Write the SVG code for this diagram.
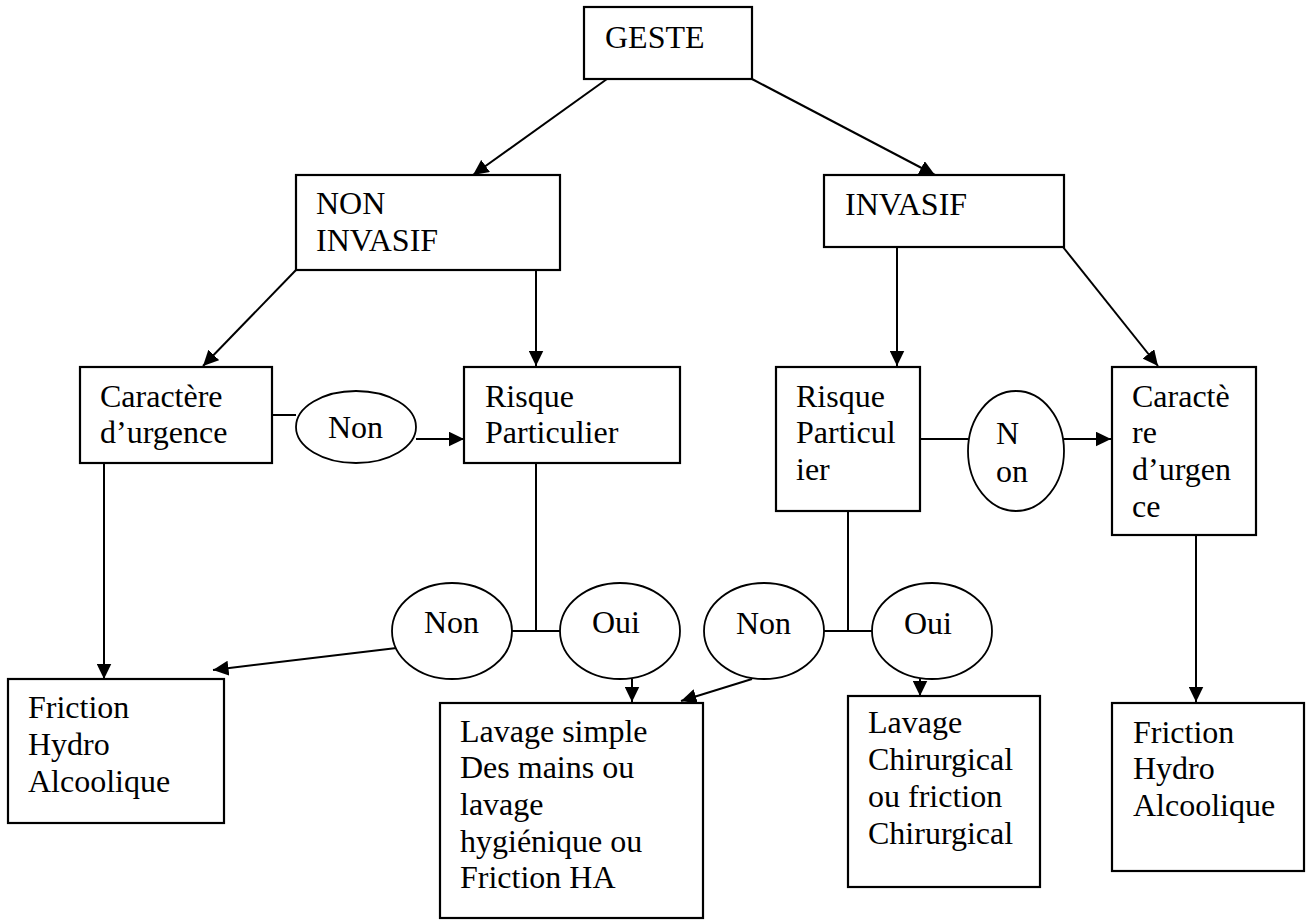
<svg xmlns="http://www.w3.org/2000/svg" width="1306" height="920" viewBox="0 0 1306 920">
<style>
.box{fill:#fff;stroke:#000;stroke-width:2.2}
.ell{fill:#fff;stroke:#000;stroke-width:1.8}
.ln{fill:none;stroke:#000;stroke-width:2}
.arr{fill:none;stroke:#000;stroke-width:2;marker-end:url(#ah)}
text{font-family:"Liberation Serif","Times New Roman",serif;font-size:32px;fill:#000}
</style>
<defs>
<marker id="ah" markerUnits="userSpaceOnUse" markerWidth="16" markerHeight="15" refX="15.5" refY="7.5" orient="auto" viewBox="0 0 16 15">
<path d="M0,0 L15.5,7.5 L0,15 z" fill="#000"/>
</marker>
</defs>
<rect width="1306" height="920" fill="#fff"/>
<g id="connectors">
<line class="arr" x1="607" y1="79" x2="473" y2="175"/>
<line class="arr" x1="752" y1="79" x2="935" y2="175"/>
<line class="arr" x1="296" y1="270" x2="203" y2="366"/>
<line class="arr" x1="536" y1="270" x2="536" y2="366"/>
<line class="arr" x1="897" y1="247" x2="897" y2="366"/>
<line class="arr" x1="1063" y1="247" x2="1158" y2="366"/>
<line class="ln" x1="272" y1="415" x2="296" y2="415"/>
<line class="arr" x1="416" y1="439" x2="464" y2="439"/>
<line class="ln" x1="920" y1="439" x2="968" y2="439"/>
<line class="arr" x1="1064" y1="439" x2="1111" y2="439"/>
<line class="arr" x1="104" y1="463" x2="104" y2="679"/>
<line class="ln" x1="536" y1="463" x2="536" y2="631"/>
<line class="ln" x1="512" y1="631" x2="560" y2="631"/>
<line class="ln" x1="848" y1="511" x2="848" y2="631"/>
<line class="ln" x1="824" y1="631" x2="872" y2="631"/>
<line class="arr" x1="405" y1="647" x2="213" y2="670"/>
<line class="arr" x1="632" y1="679" x2="632" y2="702"/>
<line class="arr" x1="752" y1="679" x2="681" y2="701"/>
<line class="arr" x1="920" y1="679" x2="920" y2="696"/>
<line class="arr" x1="1196" y1="535" x2="1196" y2="702"/>
</g>
<g id="geste"><rect class="box" x="584" y="7" width="168" height="72"/><text x="605" y="48">GESTE</text></g>
<g id="non-invasif"><rect class="box" x="296" y="175" width="264" height="95"/><text x="316" y="214">NON</text><text x="316" y="251">INVASIF</text></g>
<g id="invasif"><rect class="box" x="824" y="175" width="240" height="72"/><text x="845" y="215">INVASIF</text></g>
<g id="caractere-l"><rect class="box" x="80" y="367" width="192" height="96"/><text x="100" y="407">Caractère</text><text x="100" y="443">d’urgence</text></g>
<g id="non-top-l"><ellipse class="ell" cx="356" cy="427" rx="60" ry="36"/><text x="328" y="438">Non</text></g>
<g id="risque-l"><rect class="box" x="464" y="367" width="216" height="96"/><text x="485" y="407">Risque</text><text x="485" y="443">Particulier</text></g>
<g id="risque-r"><rect class="box" x="776" y="367" width="144" height="144"/><text x="796" y="407">Risque</text><text x="796" y="443">Particul</text><text x="796" y="480">ier</text></g>
<g id="non-top-r"><ellipse class="ell" cx="1016" cy="451" rx="48" ry="60"/><text x="996" y="444">N</text><text x="996" y="482">on</text></g>
<g id="caractere-r"><rect class="box" x="1112" y="367" width="144" height="168"/><text x="1132" y="407">Caractè</text><text x="1132" y="443">re</text><text x="1132" y="480">d’urgen</text><text x="1132" y="517">ce</text></g>
<g id="non-bot-l"><ellipse class="ell" cx="452" cy="631" rx="60" ry="48"/><text x="424" y="633">Non</text></g>
<g id="oui-bot-l"><ellipse class="ell" cx="620" cy="631" rx="60" ry="48"/><text x="592" y="633">Oui</text></g>
<g id="non-bot-r"><ellipse class="ell" cx="764" cy="631" rx="60" ry="48"/><text x="736" y="634">Non</text></g>
<g id="oui-bot-r"><ellipse class="ell" cx="932" cy="631" rx="60" ry="48"/><text x="904" y="634">Oui</text></g>
<g id="friction-l"><rect class="box" x="8" y="679" width="216" height="144"/><text x="28" y="718">Friction</text><text x="28" y="755">Hydro</text><text x="28" y="792">Alcoolique</text></g>
<g id="lavage-simple"><rect class="box" x="440" y="703" width="263" height="215"/><text x="460" y="742">Lavage simple</text><text x="460" y="778">Des mains ou</text><text x="460" y="815">lavage</text><text x="460" y="852">hygiénique ou</text><text x="460" y="888">Friction HA</text></g>
<g id="lavage-chir"><rect class="box" x="848" y="696" width="192" height="191"/><text x="868" y="733">Lavage</text><text x="868" y="770">Chirurgical</text><text x="868" y="807">ou friction</text><text x="868" y="844">Chirurgical</text></g>
<g id="friction-r"><rect class="box" x="1112" y="703" width="192" height="168"/><text x="1133" y="743">Friction</text><text x="1133" y="779">Hydro</text><text x="1133" y="816">Alcoolique</text></g>
</svg>
